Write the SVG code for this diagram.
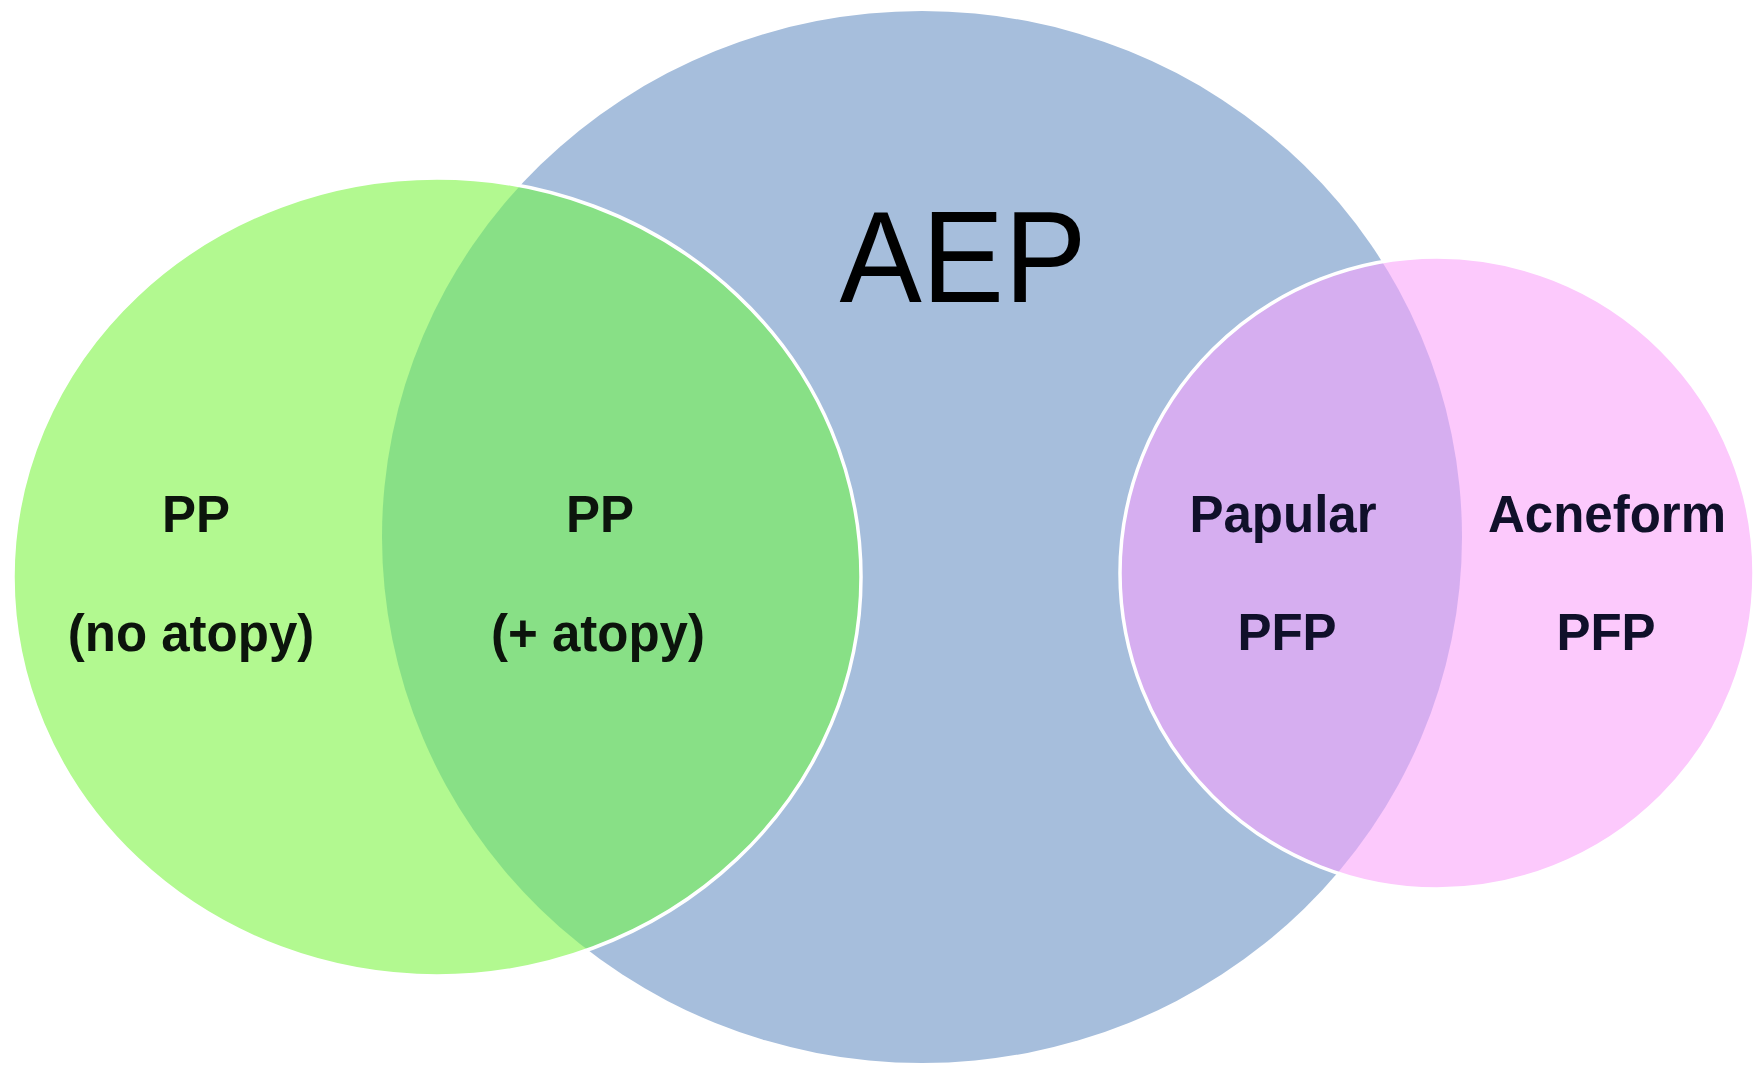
<svg xmlns="http://www.w3.org/2000/svg" width="1761" height="1065" viewBox="0 0 1761 1065">
<style>
.lbl{font-family:"Liberation Sans",Arial,sans-serif;font-weight:bold;font-size:51px;fill:#0c140c;text-anchor:middle}
.big{font-family:"Liberation Sans",Arial,sans-serif;font-size:130px;fill:#000;text-anchor:middle}
.edge{fill:none;stroke:#ffffff;stroke-width:3.5}
</style>
<defs>
<clipPath id="inBlue"><ellipse cx="922" cy="537" rx="540" ry="526"/></clipPath>
</defs>
<rect width="1761" height="1065" fill="#ffffff"/>
<g id="aep">
<ellipse cx="922" cy="537" rx="540" ry="526" fill="#a6bedc"/>
<text class="big" x="963" y="302" textLength="247" lengthAdjust="spacingAndGlyphs">AEP</text>
</g>
<g id="pp">
<ellipse cx="437" cy="577" rx="424" ry="399" fill="#b2f990"/>
<ellipse cx="437" cy="577" rx="424" ry="399" fill="#88e086" clip-path="url(#inBlue)"/>
<ellipse class="edge" cx="437" cy="577" rx="424" ry="399"/>
<text class="lbl" x="196" y="532">PP</text>
<text class="lbl" x="191" y="651">(no atopy)</text>
<text class="lbl" x="600" y="532">PP</text>
<text class="lbl" x="598" y="651">(+ atopy)</text>
</g>
<g id="pfp">
<ellipse cx="1437" cy="573" rx="317" ry="316" fill="#fcc9fc"/>
<ellipse cx="1437" cy="573" rx="317" ry="316" fill="#d6aef0" clip-path="url(#inBlue)"/>
<ellipse class="edge" cx="1437" cy="573" rx="317" ry="316"/>
<text class="lbl" x="1283" y="532" style="fill:#10102a">Papular</text>
<text class="lbl" x="1287" y="650" style="fill:#10102a">PFP</text>
<text class="lbl" x="1607" y="532" style="fill:#10102a">Acneform</text>
<text class="lbl" x="1606" y="650" style="fill:#10102a">PFP</text>
</g>
<g id="connectors"/>
</svg>
